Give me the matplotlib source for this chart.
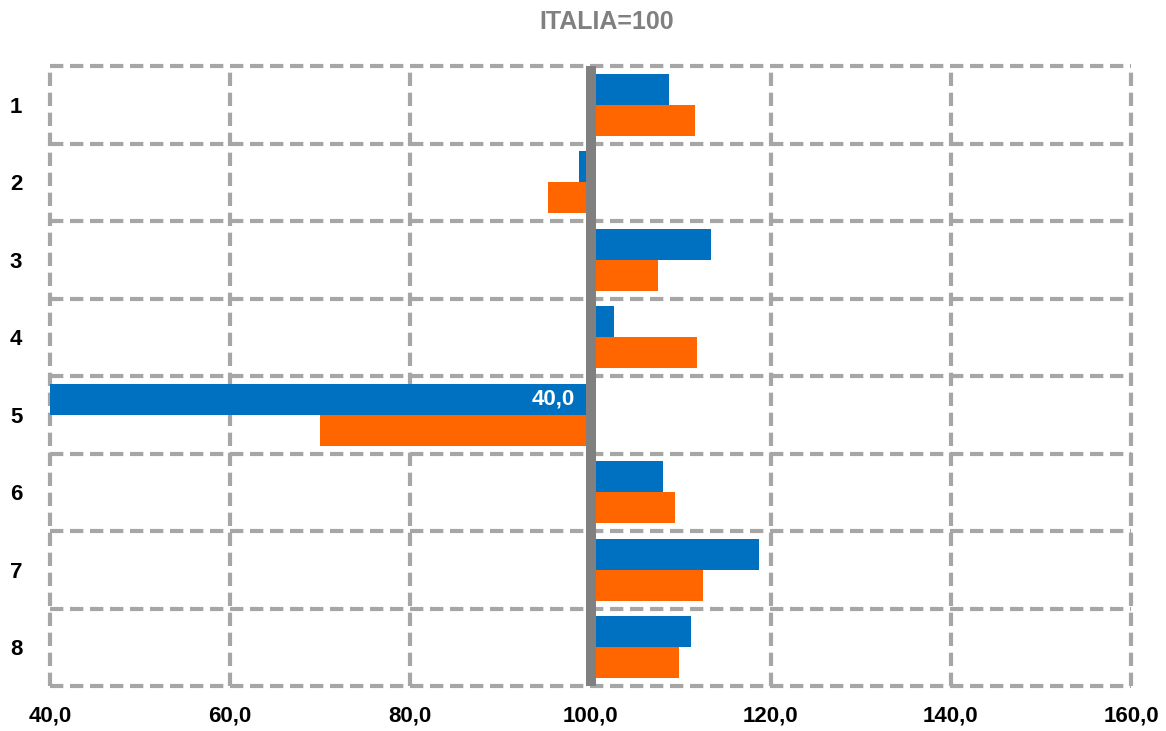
import numpy as np
import matplotlib
matplotlib.use('Agg')
import matplotlib.pyplot as plt

plt.rcParams['font.family'] = ['Liberation Sans', 'DejaVu Sans']

# data (ITALIA = 100)
categories = ['1', '2', '3', '4', '5', '6', '7', '8']
blue_vals = [108.7, 98.7, 113.4, 102.6, 40.0, 108.0, 118.7, 111.2]
orange_vals = [111.6, 95.3, 107.5, 111.8, 70.0, 109.4, 112.5, 109.8]
x_ticks = [40, 60, 80, 100, 120, 140, 160]
base = 100

fig = plt.figure(figsize=(11.66, 7.31), dpi=100)
ax = fig.add_axes([50 / 1166, 1 - 686 / 731, (1131 - 50) / 1166, (686 - 66) / 731])

y = np.arange(len(categories))
h = 0.4
ax.barh(y - h / 2, np.array(blue_vals) - base, left=base, height=h, color='#0070C0', zorder=2)
ax.barh(y + h / 2, np.array(orange_vals) - base, left=base, height=h, color='#FF6600', zorder=2)

# base line at 100
ax.axvline(base, color='#808080', lw=7.2, zorder=3)

# label for the clipped bar
ax.text(98.3, 4 - h / 2, '40,0', ha='right', va='center', color='white',
        fontsize=16, fontweight='bold', zorder=4)

ax.set_xlim(40, 160)
ax.set_ylim(len(categories) - 0.5, -0.5)
ax.set_xticks(x_ticks)
ax.set_xticklabels([f'{v:.1f}'.replace('.', ',') for v in x_ticks], fontsize=16, fontweight='bold')
ax.set_yticks(y)
ax.set_yticklabels(categories, fontsize=16, fontweight='bold')
ax.set_yticks(np.arange(-0.5, len(categories)), minor=True)
ax.tick_params(axis='both', which='both', length=0)
ax.tick_params(axis='x', pad=14)
ax.tick_params(axis='y', pad=20)

for s in ax.spines.values():
    s.set_visible(False)

grid_style = dict(color='#A6A6A6', linewidth=3.0, linestyle=(0, (3.2, 1.6)))
ax.grid(axis='x', which='major', **grid_style)
ax.grid(axis='y', which='minor', **grid_style)
ax.grid(axis='y', which='major', visible=False)
ax.set_axisbelow(True)
for tick in ax.xaxis.get_major_ticks() + ax.yaxis.get_minor_ticks():
    tick.gridline.set_clip_on(False)

fig.text(607 / 1166, 1 - 22 / 731, 'ITALIA=100', ha='center', va='center',
         fontsize=18, fontweight='bold', color='#808080')

fig.savefig('out.png', dpi=100)
